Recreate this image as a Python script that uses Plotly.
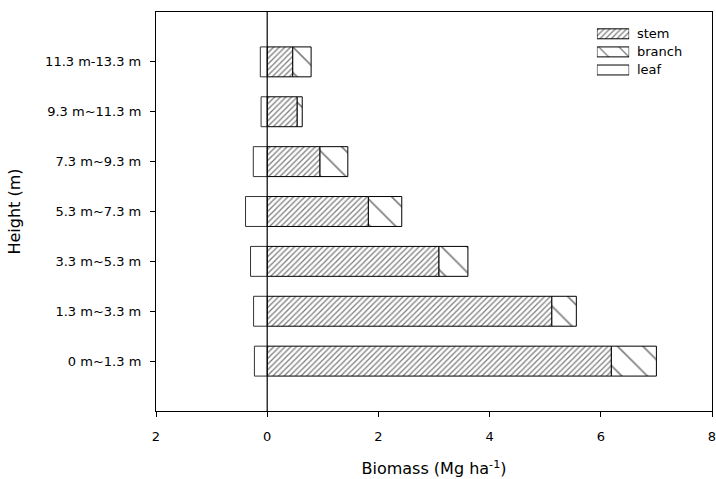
import plotly.graph_objects as go

heights = ["0 m~1.3 m", "1.3 m~3.3 m", "3.3 m~5.3 m", "5.3 m~7.3 m",
           "7.3 m~9.3 m", "9.3 m~11.3 m", "11.3 m-13.3 m"]
stem = [6.19, 5.12, 3.09, 1.82, 0.95, 0.54, 0.46]
branch = [0.81, 0.44, 0.52, 0.60, 0.50, 0.09, 0.33]
leaf = [0.23, 0.245, 0.30, 0.39, 0.25, 0.11, 0.124]
x_ticks = [-2, 0, 2, 4, 6, 8]
x_ticktext = ["2", "0", "2", "4", "6", "8"]
legend_names = ["stem", "branch", "leaf"]

FONT = "DejaVu Sans"
STEM_PAT = dict(shape="/", size=4, solidity=0.33, fgcolor="black", bgcolor="white")
BRANCH_PAT = dict(shape="\\", size=18, solidity=0.09, fgcolor="black", bgcolor="white")
LINE = dict(color="black", width=1)

fig = go.Figure()
fig.add_trace(go.Bar(y=heights, x=stem, orientation="h", name="stem", width=0.6,
                     marker=dict(color="white", line=LINE, pattern=STEM_PAT),
                     showlegend=False))
fig.add_trace(go.Bar(y=heights, x=branch, orientation="h", name="branch", width=0.6,
                     marker=dict(color="white", line=LINE, pattern=BRANCH_PAT),
                     showlegend=False))
fig.add_trace(go.Bar(y=heights, x=[-v for v in leaf], orientation="h", name="leaf",
                     width=0.6, marker=dict(color="white", line=dict(color="#333", width=1)),
                     showlegend=False))

# legend keys drawn on a small inset axis
key_pats = [STEM_PAT, BRANCH_PAT, None]
for i, (nm, pat) in enumerate(zip(legend_names, key_pats)):
    mk = dict(color="white", line=LINE)
    if pat:
        mk["pattern"] = dict(pat, size=max(4, pat["size"] * 0.8))
    fig.add_trace(go.Bar(x=[1], y=[2 - i], orientation="h", width=0.55,
                         marker=mk, xaxis="x2", yaxis="y2", showlegend=False,
                         hoverinfo="name", name=nm))
    fig.add_annotation(x=0.862, y=2 - i, xref="paper", yref="y2", text=nm,
                       showarrow=False, xanchor="left", yanchor="middle",
                       font=dict(size=13, family=FONT, color="black"))

fig.add_shape(type="line", xref="x", yref="paper", x0=0, x1=0, y0=0, y1=1,
              line=dict(color="black", width=1.2))

fig.update_layout(
    width=716, height=479,
    margin=dict(l=156, r=4, t=12, b=68),
    barmode="relative",
    plot_bgcolor="white", paper_bgcolor="white",
    font=dict(family=FONT, size=13, color="black"),
    showlegend=False,
    xaxis=dict(range=[-2, 8], tickvals=x_ticks, ticktext=x_ticktext,
               showgrid=False, zeroline=False, showline=True, mirror=True,
               linecolor="black", linewidth=1.2, ticks="outside", ticklen=5,
               tickcolor="black", tickfont=dict(size=13, family=FONT),
               automargin=False, ticklabelstandoff=8, ticklabeloverflow="allow",
               title=dict(text="Biomass (Mg ha<sup>-1</sup>)",
                          font=dict(size=16, family=FONT), standoff=20)),
    yaxis=dict(range=[-1, 7], showgrid=False, zeroline=False, showline=True,
               mirror=True, linecolor="black", linewidth=1.2, ticks="outside",
               ticklen=5, tickcolor="black", tickfont=dict(size=13, family=FONT),
               automargin=False, ticklabelstandoff=6, ticklabeloverflow="allow",
               title=dict(text="Height (m)", font=dict(size=16, family=FONT),
                          standoff=20)),
    xaxis2=dict(domain=[0.793, 0.851], range=[0, 1], anchor="y2", visible=False,
                fixedrange=True),
    yaxis2=dict(domain=[0.832, 0.968], range=[-0.5, 2.5], anchor="x2", visible=False,
                fixedrange=True),
)

fig.write_html("out.html",
               config={"displayModeBar": False},
               post_script="document.body.style.margin='0';"
                           "document.body.style.overflow='hidden';")
